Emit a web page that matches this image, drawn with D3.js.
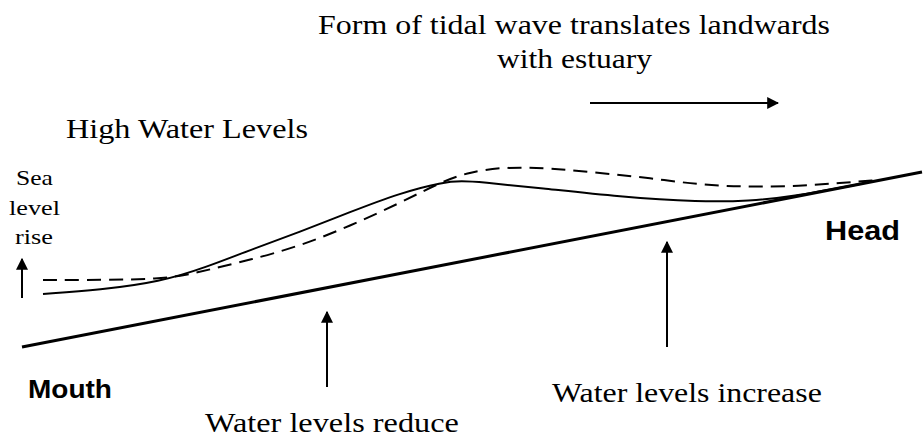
<!DOCTYPE html>
<html>
<head>
  <meta charset="utf-8" />
  <title>Tidal wave in an estuary</title>
  <script src="https://d3js.org/d3.v7.min.js"></script>
  <style>
    body { margin: 0; background: #fff; }
    .serif { font-family: "Times New Roman", Times, "Liberation Serif", serif; fill: #000; }
    .sans { font-family: Arial, "Liberation Sans", sans-serif; font-weight: bold; fill: #000; }
  </style>
</head>
<body>
  <div id="chart"></div>
  <script>
    // distance along estuary (mouth -> head) and water / bed level
    var bedDist = [0, 90];
    var bedLevel = [6.5, 94];

    var presentDist = [2.1, 7.8, 13.8, 18.5, 22.8, 27.8, 32.8, 37.8, 42.1, 44.0, 45.8, 51.8, 59.8, 67.8, 72.8, 76.8, 83.8];
    var presentLevel = [33, 35, 39, 46.5, 55, 64, 74, 83.5, 89, 89.5, 89, 86, 81.5, 79, 79.5, 81.5, 88];

    var futureDist = [2.1, 7.8, 13.8, 16.5, 18.5, 22.8, 27.8, 32.8, 37.8, 42.1, 44.8, 48.1, 52.8, 57.8, 62.8, 67.8, 72.8, 77.8, 81.8, 85.6];
    var futureLevel = [40, 40, 40.5, 42.5, 45, 50, 57, 67, 78.5, 89.5, 94, 96.5, 96, 93.5, 91, 87.5, 86.5, 87, 88.5, 90];

    var width = 923, height = 439;

    var x = d3.scaleLinear().domain([0, 90]).range([22, 922]);
    var y = d3.scaleLinear().domain([0, 100]).range([360, 160]);

    var svg = d3.select("#chart").append("svg")
      .attr("width", width)
      .attr("height", height);

    svg.append("defs").append("marker")
      .attr("id", "head")
      .attr("viewBox", "0 0 10 10")
      .attr("refX", 9).attr("refY", 5)
      .attr("markerWidth", 6).attr("markerHeight", 6)
      .attr("markerUnits", "strokeWidth")
      .attr("orient", "auto")
      .append("path").attr("d", "M0,0L10,5L0,10Z").attr("fill", "#000");

    function pairs(xs, ys) {
      return xs.map(function (d, i) { return [d, ys[i]]; });
    }

    var straight = d3.line()
      .x(function (d) { return x(d[0]); })
      .y(function (d) { return y(d[1]); });

    var smooth = d3.line()
      .x(function (d) { return x(d[0]); })
      .y(function (d) { return y(d[1]); })
      .curve(d3.curveBasis);

    // estuary bed
    svg.append("path")
      .attr("d", straight(pairs(bedDist, bedLevel)))
      .attr("fill", "none").attr("stroke", "#000").attr("stroke-width", 3);

    // high water level now (solid)
    svg.append("path")
      .attr("d", smooth(pairs(presentDist, presentLevel)))
      .attr("fill", "none").attr("stroke", "#000").attr("stroke-width", 2);

    // high water level with sea level rise (dashed)
    svg.append("path")
      .attr("d", smooth(pairs(futureDist, futureLevel)))
      .attr("fill", "none").attr("stroke", "#000").attr("stroke-width", 2)
      .attr("stroke-dasharray", "14,8");

    // arrows
    var arrows = [
      [22, 298, 22, 259],
      [327, 387, 327, 312],
      [667, 347, 667, 242],
      [590, 103, 778, 103]
    ];
    svg.selectAll("line.arrow").data(arrows).enter().append("line")
      .attr("class", "arrow")
      .attr("x1", function (d) { return d[0]; })
      .attr("y1", function (d) { return d[1]; })
      .attr("x2", function (d) { return d[2]; })
      .attr("y2", function (d) { return d[3]; })
      .attr("stroke", "#000").attr("stroke-width", 2)
      .attr("marker-end", "url(#head)");

    // labels (fitted to the measured width by a horizontal scale)
    var labels = [
      { c: "serif", t: "Form of tidal wave translates landwards", x: 318, y: 34, w: 512, s: 27 },
      { c: "serif", t: "with estuary", x: 497, y: 68, w: 155, s: 27 },
      { c: "serif", t: "High Water Levels", x: 66, y: 138, w: 242, s: 27 },
      { c: "serif", t: "Sea", x: 16, y: 185, w: 37, s: 20 },
      { c: "serif", t: "level", x: 9, y: 215, w: 51, s: 20 },
      { c: "serif", t: "rise", x: 15, y: 244, w: 38, s: 20 },
      { c: "serif", t: "Water levels reduce", x: 205, y: 432, w: 254, s: 27 },
      { c: "serif", t: "Water levels increase", x: 552, y: 402, w: 270, s: 27 },
      { c: "sans", t: "Mouth", x: 28, y: 398, w: 84, s: 25 },
      { c: "sans", t: "Head", x: 825, y: 240, w: 75, s: 28 }
    ];
    svg.selectAll("text.label").data(labels).enter().append("text")
      .attr("class", function (d) { return "label " + d.c; })
      .style("font-size", function (d) { return d.s + "px"; })
      .text(function (d) { return d.t; })
      .attr("transform", function (d) {
        var k = d.w / this.getComputedTextLength();
        return "translate(" + d.x + "," + d.y + ") scale(" + k + ",1)";
      });
  </script>
</body>
</html>
